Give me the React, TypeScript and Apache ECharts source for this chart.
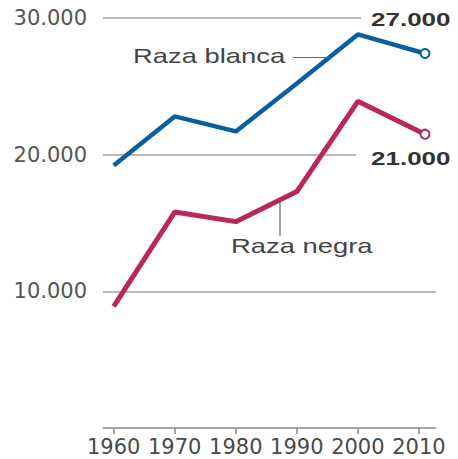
import React, { useEffect, useRef } from "react";
import * as echarts from "echarts";

const years = [1960, 1970, 1980, 1990, 2000, 2011];
const blanca = [19200, 22800, 21700, 25200, 28800, 27400];
const negra = [8900, 15800, 15100, 17300, 23900, 21500];
const xTicks = [1960, 1970, 1980, 1990, 2000, 2010];
const yTicks = [0, 10000, 20000, 30000];
const endLabels = ["27.000", "21.000"];
const seriesNames = ["Raza blanca", "Raza negra"];

const BLUE = "#0a5f9e";
const RED = "#b8275e";

function buildData(vals: number[], color: string) {
  return vals.map((v, i) =>
    i === vals.length - 1
      ? {
          value: [years[i], v],
          symbol: "circle",
          symbolSize: 9,
          itemStyle: { color: "#fff", borderColor: color, borderWidth: 2 },
        }
      : { value: [years[i], v] }
  );
}

export default function App() {
  const ref = useRef<HTMLDivElement>(null);
  useEffect(() => {
    document.body.style.margin = "0";
    const chart = echarts.init(ref.current!, null, { renderer: "svg" });
    chart.setOption({
      animation: false,
      grid: { left: 103, right: 22, top: 18, bottom: 31 },
      xAxis: {
        type: "value",
        min: 1958.25,
        max: 2012.8,
        axisLine: { show: true, lineStyle: { color: "#a8a39a", width: 1.5 } },
        axisTick: {
          show: true,
          customValues: xTicks,
          length: 6,
          lineStyle: { color: "#8a857c", width: 1.5 },
        },
        axisLabel: {
          customValues: xTicks,
          formatter: (v: number) => String(v),
          fontFamily: "DejaVu Sans",
          fontSize: 21,
          lineHeight: 21,
          color: "#4a4a4a",
          margin: 8,
        },
        splitLine: { show: false },
      },
      yAxis: {
        type: "value",
        min: yTicks[0],
        max: yTicks[yTicks.length - 1],
        interval: 10000,
        axisLine: { show: false },
        axisTick: { show: false },
        axisLabel: {
          formatter: (v: number) => (v === 0 ? "" : (v / 1000).toFixed(0) + ".000"),
          fontFamily: "DejaVu Sans",
          fontSize: 21,
          color: "#555",
          margin: 16,
        },
        splitLine: { show: true, lineStyle: { color: "#a8a39a", width: 1.5 } },
      },
      series: [
        {
          name: seriesNames[0],
          type: "line",
          symbol: "none",
          showSymbol: true,
          data: buildData(blanca, BLUE),
          lineStyle: { color: BLUE, width: 4.5 },
          itemStyle: { color: BLUE },
          z: 3,
        },
        {
          name: seriesNames[1],
          type: "line",
          symbol: "none",
          showSymbol: true,
          data: buildData(negra, RED),
          lineStyle: { color: RED, width: 5 },
          itemStyle: { color: RED },
          z: 3,
        },
      ],
      graphic: [
        { type: "rect", shape: { x: 361, y: 8, width: 97, height: 22 }, style: { fill: "#fff" }, z: 10 },
        { type: "rect", shape: { x: 356, y: 147, width: 102, height: 22 }, style: { fill: "#fff" }, z: 10 },
        {
          type: "text",
          x: 371,
          y: 19.5,
          scaleX: 1.37,
          z: 11,
          style: {
            text: endLabels[0],
            fontFamily: "Liberation Sans",
            fontWeight: "bold",
            fontSize: 19,
            fill: "#333",
            verticalAlign: "middle",
            align: "left",
          },
        },
        {
          type: "text",
          x: 371,
          y: 158,
          scaleX: 1.37,
          z: 11,
          style: {
            text: endLabels[1],
            fontFamily: "Liberation Sans",
            fontWeight: "bold",
            fontSize: 19,
            fill: "#333",
            verticalAlign: "middle",
            align: "left",
          },
        },
        {
          type: "text",
          x: 133,
          y: 55.5,
          scaleX: 1.37,
          z: 11,
          style: {
            text: seriesNames[0],
            fontFamily: "Liberation Sans",
            fontSize: 20,
            fill: "#444",
            verticalAlign: "middle",
            align: "left",
          },
        },
        {
          type: "text",
          x: 231,
          y: 245.5,
          scaleX: 1.37,
          z: 11,
          style: {
            text: seriesNames[1],
            fontFamily: "Liberation Sans",
            fontSize: 20,
            fill: "#444",
            verticalAlign: "middle",
            align: "left",
          },
        },
        {
          type: "line",
          z: 11,
          shape: { x1: 293, y1: 57.5, x2: 330, y2: 57.5 },
          style: { stroke: "#666", lineWidth: 1.2 },
        },
        {
          type: "line",
          z: 11,
          shape: { x1: 280, y1: 199, x2: 280, y2: 236 },
          style: { stroke: "#666", lineWidth: 1.2 },
        },
      ],
    });
    return () => chart.dispose();
  }, []);
  return <div ref={ref} style={{ width: 458, height: 459 }} />;
}
